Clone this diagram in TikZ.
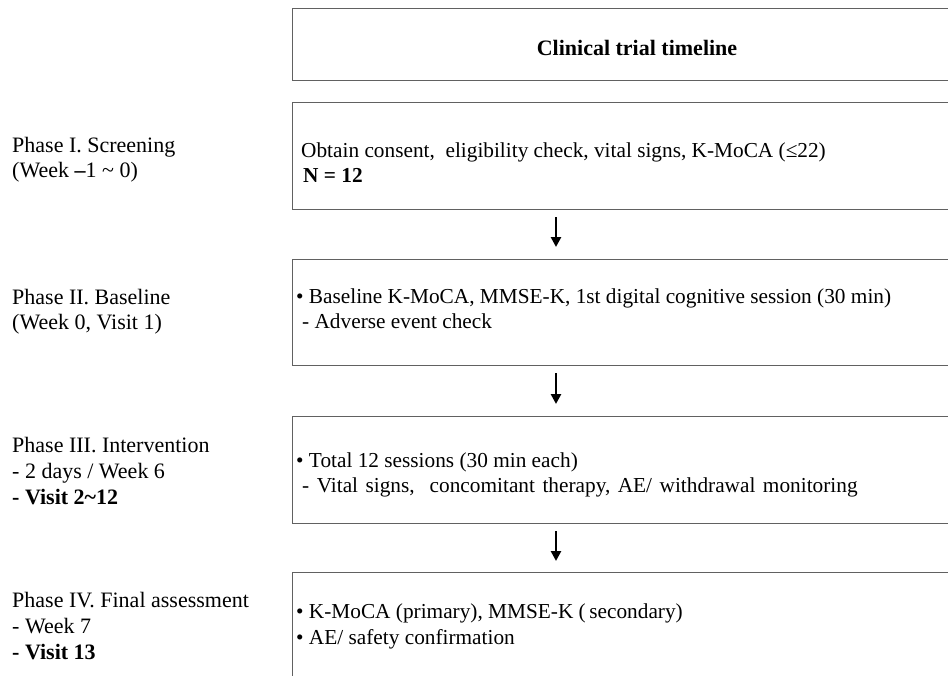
\documentclass[tikz,border=0pt]{standalone}
\usepackage{fontspec}
\setmainfont{Liberation Serif}
\usetikzlibrary{arrows.meta}
\tikzset{
  box/.style={draw=black!62, line width=1.4pt, rectangle, anchor=north west, minimum width=700pt, inner sep=0pt},
  lbl/.style={anchor=base west, inner sep=0pt, font=\fontsize{22}{26}\selectfont},
  txt/.style={anchor=base west, inner sep=0pt, font=\fontsize{21.3}{26}\selectfont},
  ttl/.style={anchor=base, inner sep=0pt, font=\fontsize{22}{26}\selectfont\bfseries},
  flow/.style={line width=2.6pt, -{Triangle[width=10pt,length=10pt]}}
}
\begin{document}
\begin{tikzpicture}[x=1pt,y=-1pt]
\useasboundingbox (0,0) rectangle (948,675);
\clip (0,0) rectangle (948,675);
% boxes
\node[box, minimum height=72pt] (b0) at (292,8) {};
\node[box, minimum height=107pt] (b1) at (292,102) {};
\node[box, minimum height=106pt] (b2) at (292,259) {};
\node[box, minimum height=107pt] (b3) at (292,416) {};
\node[box, minimum height=130pt] (b4) at (292,572) {};
% title
\node[ttl] (title) at (637,55) {Clinical trial timeline};
% left labels
\node[lbl] (p1a) at (12,152) {Phase I. Screening};
\node[lbl] (p1b) at (12,177) {(Week \textbf{–}1 \textasciitilde{} 0)};
\node[lbl] (p2a) at (12,304) {Phase II. Baseline};
\node[lbl] (p2b) at (12,329) {(Week 0, Visit 1)};
\node[lbl] (p3a) at (12,452) {Phase III. Intervention};
\node[lbl] (p3b) at (12,478) {- 2 days / Week 6};
\node[lbl] (p3c) at (12,504) {\textbf{- Visit 2\textasciitilde12}};
\node[lbl] (p4a) at (12,607) {Phase IV. Final assessment};
\node[lbl] (p4b) at (12,633) {- Week 7};
\node[lbl] (p4c) at (12,659) {\textbf{- Visit 13}};
% box texts
\node[txt] (t1a) at (301,157) {Obtain consent,\ \ eligibility check, vital signs, K-MoCA (≤22)};
\node[txt] (t1b) at (303,182) {\textbf{N = 12}};
\node[txt] (t2a) at (296,303) {\textbullet\ Baseline K-MoCA, MMSE-K, 1st digital cognitive session (30 min)};
\node[txt] (t2b) at (302,328) {- Adverse event check};
\node[txt] (t3a) at (296,467) {\textbullet\ Total 12 sessions (30 min each)};
\node[txt] (t3b) at (302,492) {\spaceskip=7.5pt plus 1pt - Vital signs,\ \ concomitant therapy, AE/ withdrawal monitoring};
\node[txt] (t4a) at (296,618) {\textbullet\ K-MoCA (primary), MMSE-K (\,secondary)};
\node[txt] (t4b) at (296,644) {\textbullet\ AE/ safety\ confirmation};
% arrows
\coordinate (a1s) at (556,217);
\coordinate (a1e) at (556,247);
\coordinate (a2s) at (556,373);
\coordinate (a2e) at (556,404);
\coordinate (a3s) at (556,531);
\coordinate (a3e) at (556,561);
\draw[flow] (a1s) -- (a1e);
\draw[flow] (a2s) -- (a2e);
\draw[flow] (a3s) -- (a3e);
\end{tikzpicture}
\end{document}
